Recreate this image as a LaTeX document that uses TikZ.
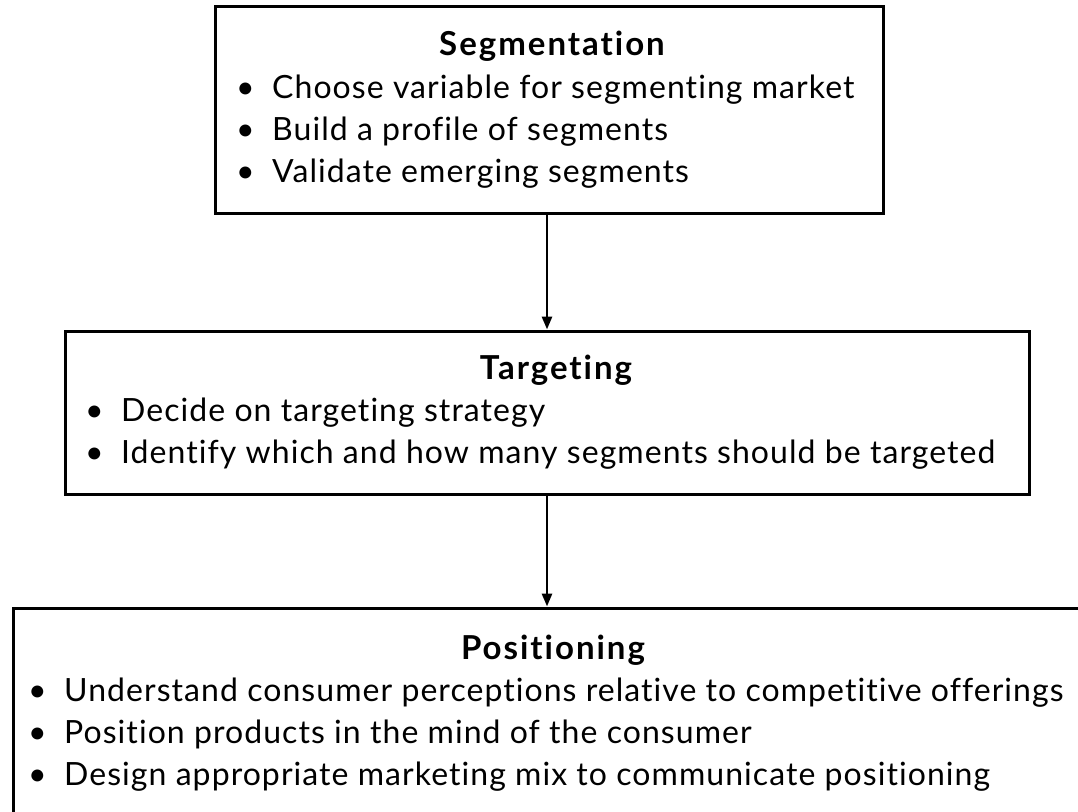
\documentclass[tikz,border=0pt]{standalone}
\usepackage{fontspec}
\setmainfont{Lato}
\newfontfamily\itemfont{Lato}[LetterSpace=3.3, Ligatures={NoCommon,NoContextual}]
\newfontfamily\headfont{Lato Bold}[LetterSpace=6, Ligatures={NoCommon,NoContextual}]
\usetikzlibrary{arrows.meta}
\begin{document}
\begin{tikzpicture}[x=1pt,y=-1pt,
  box/.style={draw=black, line width=3pt, inner sep=0pt},
  head/.style={anchor=base, inner sep=0pt, font=\headfont\fontsize{33}{37}\selectfont},
  item/.style={anchor=base west, inner sep=0pt, font=\itemfont\fontsize{32}{36}\selectfont},
  arr/.style={line width=2.8pt, -{Triangle[length=13pt,width=10pt]}}]
\useasboundingbox (0,0) rectangle (1078,811);
\clip (0,0) rectangle (1078,811);
\fill[white] (0,0) rectangle (1078,811);
% boxes
\node[box, minimum width=668pt, minimum height=207pt] (seg) at (549,109.5) {};
\node[box, minimum width=964pt, minimum height=163pt] (tar) at (547,412.5) {};
\node[box, minimum width=1100pt, minimum height=260pt] (pos) at (563,738) {};
% texts
\node[head] (segh) at (552,55) {Segmentation};
\node[item] (seg1) at (236,98) {\makebox[36pt][l]{\textbullet}Choose variable for segmenting market};
\node[item] (seg2) at (236,140) {\makebox[36pt][l]{\textbullet}Build a profile of segments};
\node[item] (seg3) at (236,182) {\makebox[36pt][l]{\textbullet}Validate emerging segments};
\node[head] (tarh) at (556,379) {Targeting};
\node[item] (tar1) at (85,421) {\makebox[36pt][l]{\textbullet}Decide on targeting strategy};
\node[item] (tar2) at (85,463) {\makebox[36pt][l]{\textbullet}Identify which and how many segments should be targeted};
\node[head] (posh) at (553,659) {Positioning};
\node[item] (pos1) at (28,701) {\makebox[36pt][l]{\textbullet}Understand consumer perceptions relative to competitive offerings};
\node[item] (pos2) at (28,743) {\makebox[36pt][l]{\textbullet}Position products in the mind of the consumer};
\node[item] (pos3) at (28,785) {\makebox[36pt][l]{\textbullet}Design appropriate marketing mix to communicate positioning};
% connectors
\coordinate (ax) at (547,0);
\draw[arr] (seg.south -| ax) -- (tar.north -| ax);
\draw[arr] (tar.south -| ax) -- (pos.north -| ax);
\end{tikzpicture}
\end{document}
